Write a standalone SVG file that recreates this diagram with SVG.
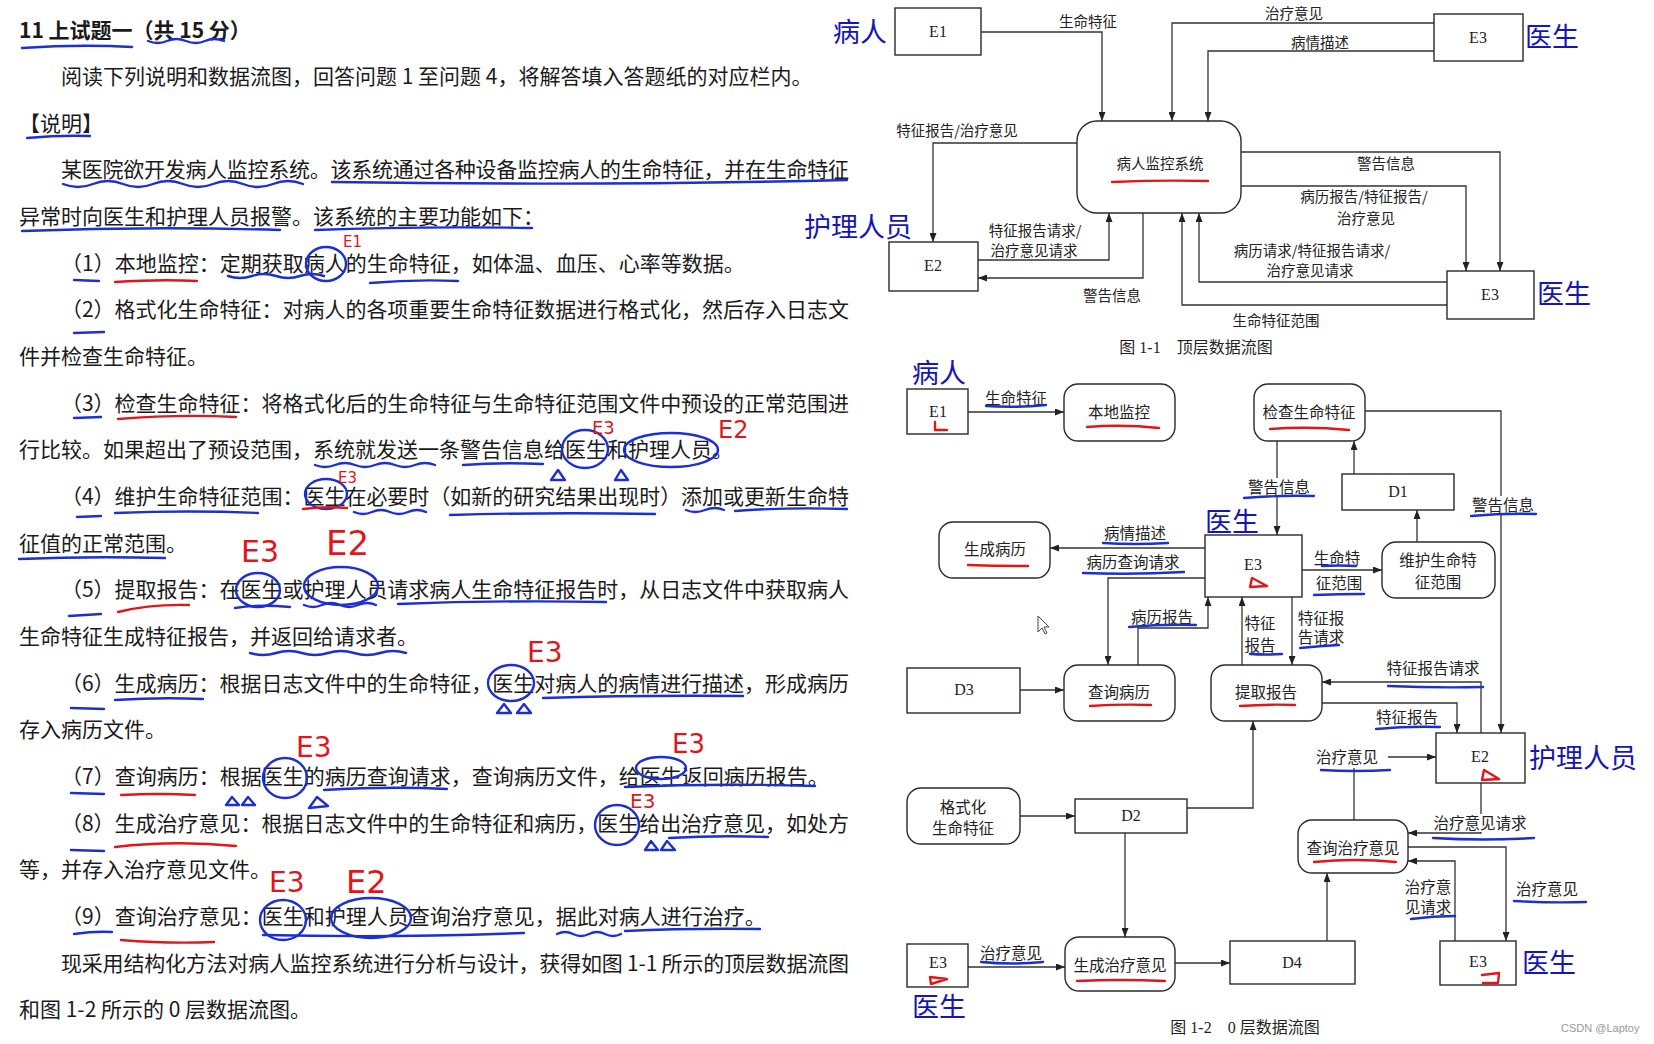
<svg xmlns="http://www.w3.org/2000/svg" width="1654" height="1044" viewBox="0 0 1654 1044">
<defs>
<marker id="ah" viewBox="0 0 9 7" refX="9" refY="3.5" markerWidth="9" markerHeight="7" markerUnits="userSpaceOnUse" orient="auto"><path d="M0,0 L9,3.5 L0,7 z" fill="#222"/></marker>
<style>
.t{font-family:"Noto Sans CJK SC","Noto Sans",sans-serif;font-size:21px;fill:#1a1a1a}
.tb{font-weight:bold}
.l1{font-family:"Noto Sans CJK SC",sans-serif;font-size:14.5px;fill:#222;text-anchor:middle}
.l2{font-family:"Noto Sans CJK SC",sans-serif;font-size:15.5px;fill:#222;text-anchor:middle}
.id{font-family:"Liberation Serif",serif;font-size:16px;fill:#222;text-anchor:middle}
.cap{font-family:"Liberation Serif","Noto Sans CJK SC",serif;font-size:16px;fill:#222;text-anchor:middle}
.bx{fill:#fff;stroke:#2a2a2a;stroke-width:1.4}
.c{fill:none;stroke:#333;stroke-width:1.3}
.a{marker-end:url(#ah)}
.bl{fill:none;stroke:#1c2fd0;stroke-width:2.4;stroke-linecap:round;stroke-linejoin:round}
.rd{fill:none;stroke:#e0161b;stroke-width:2.4;stroke-linecap:round;stroke-linejoin:round}
.big{font-family:"Noto Sans CJK SC",sans-serif;font-size:27px;fill:#1616b4}
.hw{font-family:"DejaVu Sans",sans-serif;fill:#e0161b}
.wb{fill:#fff}
</style>
</defs>
<rect width="1654" height="1044" fill="#fff"/>

<g id="text">
<text class="t tb" x="19" y="37.5" font-size="20">11 上试题一（共 15 分）</text>
<text class="t" x="61" y="84">阅读下列说明和数据流图，回答问题 1 至问题 4，将解答填入答题纸的对应栏内。</text>
<text class="t" x="19" y="130.5">【说明】</text>
<text class="t" x="61" y="177" textLength="788" lengthAdjust="spacing">某医院欲开发病人监控系统。该系统通过各种设备监控病人的生命特征，并在生命特征</text>
<text class="t" x="19" y="224">异常时向医生和护理人员报警。该系统的主要功能如下：</text>
<text class="t" x="61" y="270.5">（1）本地监控：定期获取病人的生命特征，如体温、血压、心率等数据。</text>
<text class="t" x="61" y="317" textLength="788" lengthAdjust="spacing">（2）格式化生命特征：对病人的各项重要生命特征数据进行格式化，然后存入日志文</text>
<text class="t" x="19" y="364">件并检查生命特征。</text>
<text class="t" x="61" y="410.5" textLength="788" lengthAdjust="spacing">（3）检查生命特征：将格式化后的生命特征与生命特征范围文件中预设的正常范围进</text>
<text class="t" x="19" y="457">行比较。如果超出了预设范围，系统就发送一条警告信息给医生和护理人员。</text>
<text class="t" x="61" y="504" textLength="788" lengthAdjust="spacing">（4）维护生命特征范围：医生在必要时（如新的研究结果出现时）添加或更新生命特</text>
<text class="t" x="19" y="550.5">征值的正常范围。</text>
<text class="t" x="61" y="597" textLength="788" lengthAdjust="spacing">（5）提取报告：在医生或护理人员请求病人生命特征报告时，从日志文件中获取病人</text>
<text class="t" x="19" y="644">生命特征生成特征报告，并返回给请求者。</text>
<text class="t" x="61" y="690.5" textLength="788" lengthAdjust="spacing">（6）生成病历：根据日志文件中的生命特征，医生对病人的病情进行描述，形成病历</text>
<text class="t" x="19" y="737">存入病历文件。</text>
<text class="t" x="61" y="784">（7）查询病历：根据医生的病历查询请求，查询病历文件，给医生返回病历报告。</text>
<text class="t" x="61" y="830.5" textLength="788" lengthAdjust="spacing">（8）生成治疗意见：根据日志文件中的生命特征和病历，医生给出治疗意见，如处方</text>
<text class="t" x="19" y="877">等，并存入治疗意见文件。</text>
<text class="t" x="61" y="924">（9）查询治疗意见：医生和护理人员查询治疗意见，据此对病人进行治疗。</text>
<text class="t" x="61" y="970.5" textLength="788" lengthAdjust="spacing">现采用结构化方法对病人监控系统进行分析与设计，获得如图 1-1 所示的顶层数据流图</text>
<text class="t" x="19" y="1017">和图 1-2 所示的 0 层数据流图。</text>
</g>

<g id="annotations">
<path class="bl" d="M22,48 Q80,44 132,47"/>
<path class="bl" d="M148,41 q10,4 19,0 t19,0 t19,0 t19,0"/>
<path class="bl" d="M27,138 Q60,135 90,136"/>
<path class="bl" d="M63,184 q15,6 30,0 t30,0 t30,0 t30,0 t30,0 t30,0 t30,0 t30,0"/>
<path class="bl" d="M332,182 Q600,186 847,180"/>
<path class="bl" d="M22,231 Q150,226 280,230"/>
<path class="bl" d="M315,230 Q420,226 532,228"/>
<path class="bl" d="M74,280 L99,281"/>
<path class="rd" d="M115,282 Q160,279 197,281"/>
<path class="bl" d="M228,276 q12,4 24,0 t24,0 t24,0 t24,0"/>
<ellipse class="bl" cx="326" cy="264" rx="20" ry="17"/>
<path class="bl" d="M370,283 Q415,279 458,281"/>
<text class="hw" x="343" y="247" font-size="15">E1</text>
<path class="bl" d="M74,333 L104,332"/>
<path class="bl" d="M74,418 L101,417"/>
<path class="rd" d="M118,419 Q180,414 236,417"/>
<path class="bl" d="M315,465 q10,4 20,0 t20,0 t20,0 t20,0 t20,0 t20,0"/>
<path class="bl" d="M463,465 Q500,462 543,464"/>
<ellipse class="bl" cx="585" cy="449" rx="23" ry="19"/>
<ellipse class="bl" cx="671" cy="450" rx="47" ry="17"/>
<text class="hw" x="592" y="434" font-size="18">E3</text>
<text class="hw" x="718" y="438" font-size="24">E2</text>
<path class="bl" d="M551,480 L558,470 L565,480 Z"/>
<path class="bl" d="M615,480 L621,470 L628,480 Z"/>
<path class="bl" d="M77,517 L101,516"/>
<path class="bl" d="M115,513 Q190,510 258,513"/>
<ellipse class="bl" cx="326" cy="494" rx="21" ry="15"/>
<path class="rd" d="M303,509 Q325,506 347,508"/>
<text class="hw" x="338" y="483" font-size="15">E3</text>
<path class="bl" d="M354,512 q9,4 18,0 t18,0 t18,0 t18,0"/>
<path class="bl" d="M450,515 Q550,512 655,514"/>
<path class="bl" d="M686,510 q9,4 19,0 t19,0"/>
<path class="bl" d="M735,511 Q790,507 847,509"/>
<path class="bl" d="M19,559 Q90,556 165,558"/>
<text class="hw" x="241" y="562" font-size="30">E3</text>
<text class="hw" x="326" y="555" font-size="34">E2</text>
<path class="bl" d="M69,616 L101,614"/>
<path class="rd" d="M118,612 Q150,604 189,605"/>
<ellipse class="bl" cx="258" cy="590" rx="22" ry="17"/>
<path class="bl" d="M235,608 Q258,604 290,607"/>
<ellipse class="bl" cx="341" cy="586" rx="37" ry="19"/>
<path class="bl" d="M304,605 q9,4 18,0 t18,0 t18,0 t18,0"/>
<path class="bl" d="M398,604 Q500,600 606,602"/>
<path class="bl" d="M250,653 q13,4 26,0 t26,0 t26,0 t26,0 t26,0 t26,0"/>
<text class="hw" x="527" y="662" font-size="28">E3</text>
<path class="bl" d="M71,708 L104,709"/>
<path class="bl" d="M115,700 Q160,697 203,699"/>
<ellipse class="bl" cx="511" cy="683" rx="23" ry="18"/>
<path class="bl" d="M497,713 L504,704 L511,713 Z M517,713 L524,704 L531,713 Z"/>
<path class="bl" d="M543,698 Q640,695 743,696"/>
<text class="hw" x="296" y="757" font-size="28">E3</text>
<text class="hw" x="672" y="753" font-size="26">E3</text>
<path class="bl" d="M71,793 L104,794"/>
<path class="rd" d="M121,795 Q160,793 195,795"/>
<ellipse class="bl" cx="285" cy="778" rx="22" ry="20"/>
<path class="bl" d="M226,805 L232,797 L239,805 Z M242,805 L248,797 L255,805 Z"/>
<path class="bl" d="M309,808 L317,797 L328,806 Z"/>
<path class="bl" d="M324,790 Q390,786 447,789"/>
<ellipse class="bl" cx="661" cy="768" rx="25" ry="11"/>
<path class="bl" d="M625,787 Q720,783 815,786"/>
<text class="hw" x="630" y="808" font-size="20">E3</text>
<path class="bl" d="M71,850 L104,851"/>
<path class="rd" d="M115,847 Q175,840 236,846"/>
<ellipse class="bl" cx="617" cy="825" rx="22" ry="20"/>
<path class="bl" d="M645,850 L651,841 L658,850 Z M661,850 L667,841 L675,850 Z"/>
<path class="bl" d="M669,838 Q720,835 768,837"/>
<text class="hw" x="269" y="892" font-size="28">E3</text>
<text class="hw" x="346" y="893" font-size="32">E2</text>
<path class="bl" d="M74,934 Q95,931 112,932"/>
<path class="rd" d="M121,940 Q170,944 214,942"/>
<ellipse class="bl" cx="283" cy="920" rx="23" ry="20"/>
<ellipse class="bl" cx="371" cy="918" rx="40" ry="20"/>
<path class="bl" d="M263,935 Q390,938 524,933"/>
<path class="bl" d="M557,934 q8,-4 16,0 t16,0 t16,0 t16,0"/>
<path class="bl" d="M625,931 Q690,928 760,929"/>
</g>

<!-- Figure 1-1 -->
<g id="fig1-connectors">
<path class="c a" d="M981,32 H1102 V121"/>
<path class="c a" d="M1434,23 H1172 V121"/>
<path class="c a" d="M1434,51 H1208 V121"/>
<path class="c a" d="M1077,143 H933 V242"/>
<path class="c a" d="M978,260 H1109 V213"/>
<path class="c a" d="M1143,213 V278 H978"/>
<path class="c a" d="M1241,152 H1500 V271"/>
<path class="c a" d="M1241,186 H1466 V271"/>
<path class="c a" d="M1447,282 H1199 V213"/>
<path class="c a" d="M1447,305 H1182 V213"/>
<text class="l1" x="1088" y="27">生命特征</text>
<text class="l1" x="1294" y="18.5">治疗意见</text>
<text class="l1" x="1320" y="47.5">病情描述</text>
<text class="l1" x="957" y="135.5">特征报告/治疗意见</text>
<text class="l1" x="1035" y="235.5">特征报告请求/</text>
<text class="l1" x="1034" y="255.5">治疗意见请求</text>
<text class="l1" x="1112" y="300.5">警告信息</text>
<text class="l1" x="1386" y="168.5">警告信息</text>
<text class="l1" x="1364" y="202">病历报告/特征报告/</text>
<text class="l1" x="1366" y="223.5">治疗意见</text>
<text class="l1" x="1312" y="255.5">病历请求/特征报告请求/</text>
<text class="l1" x="1310" y="275.5">治疗意见请求</text>
<text class="l1" x="1276" y="325.5">生命特征范围</text>
</g>
<g id="f1-E1"><rect class="bx" x="895" y="8" width="86" height="47"/><text class="id" x="938" y="37">E1</text></g>
<g id="f1-E3a"><rect class="bx" x="1434" y="14" width="89" height="47"/><text class="id" x="1478" y="43">E3</text></g>
<g id="f1-P"><rect class="bx" x="1077" y="121" width="164" height="92" rx="20"/><text class="l1" x="1160" y="168.5">病人监控系统</text><path class="rd" d="M1112,182 Q1160,180 1208,181" stroke-width="2"/></g>
<g id="f1-E2"><rect class="bx" x="889" y="242" width="89" height="49"/><text class="id" x="933" y="271">E2</text></g>
<g id="f1-E3b"><rect class="bx" x="1447" y="271" width="87" height="48"/><text class="id" x="1490" y="300">E3</text></g>
<text class="big" x="833" y="42">病人</text>
<text class="big" x="1525" y="47">医生</text>
<text class="big" x="804" y="237">护理人员</text>
<text class="big" x="1537" y="304">医生</text>
<text class="cap" x="1196" y="353">图 1-1　顶层数据流图</text>

<!-- Figure 1-2 -->
<g id="fig2-connectors">
<path class="c a" d="M968,412 H1064"/>
<path class="c a" d="M1365,411 H1501 V733"/>
<path class="c a" d="M1277,441 V535"/>
<path class="c a" d="M1354,474 V441"/>
<path class="c a" d="M1417,542 V510"/>
<path class="c a" d="M1205,548 H1050"/>
<path class="c a" d="M1205,578 H1108 V665"/>
<path class="c a" d="M1302,570 H1382"/>
<path class="c a" d="M1138,665 V628 H1208 V597"/>
<path class="c a" d="M1242,665 V597"/>
<path class="c a" d="M1292,597 V665"/>
<path class="c a" d="M1481,733 V682 H1322"/>
<path class="c a" d="M1322,703 H1457 V733"/>
<path class="c a" d="M1020,690 H1064"/>
<path class="c" d="M1354,820 V768"/>
<path class="c a" d="M1388,757 H1436"/>
<path class="c a" d="M1187,808 H1253 V721"/>
<path class="c a" d="M1481,783 V833 H1408"/>
<path class="c a" d="M1020,816 H1075"/>
<path class="c a" d="M1125,833 V937"/>
<path class="c a" d="M968,967 H1065"/>
<path class="c a" d="M1175,963 H1230"/>
<path class="c a" d="M1327,941 V873"/>
<path class="c a" d="M1408,847 H1506 V941"/>
<path class="c a" d="M1455,941 V861 H1408"/>
<rect class="wb" x="1242" y="478" width="74" height="18"/>
<rect class="wb" x="1469" y="496" width="68" height="18"/>
<rect class="wb" x="1429" y="814" width="102" height="18"/>
<text class="l2" x="1016" y="403.5">生命特征</text>
<text class="l2" x="1279" y="492.5">警告信息</text>
<text class="l2" x="1503" y="510.5">警告信息</text>
<text class="l2" x="1135" y="538.5">病情描述</text>
<text class="l2" x="1133" y="567.5">病历查询请求</text>
<text class="l2" x="1337" y="563.5">生命特</text>
<text class="l2" x="1339" y="588.5">征范围</text>
<text class="l2" x="1162" y="622.5">病历报告</text>
<text class="l2" x="1260" y="628.5">特征</text>
<text class="l2" x="1260" y="650.5">报告</text>
<text class="l2" x="1321" y="623.5">特征报</text>
<text class="l2" x="1321" y="642.5">告请求</text>
<text class="l2" x="1433" y="673.5">特征报告请求</text>
<text class="l2" x="1407" y="722.5">特征报告</text>
<text class="l2" x="1347" y="762.5">治疗意见</text>
<text class="l2" x="1480" y="828.5">治疗意见请求</text>
<text class="l2" x="1011" y="958.5">治疗意见</text>
<text class="l2" x="1547" y="894.5">治疗意见</text>
<text class="l2" x="1428" y="892.5">治疗意</text>
<text class="l2" x="1428" y="912.5">见请求</text>
</g>
<g id="fig2-label-marks">
<path class="bl" d="M986,406 Q1015,408 1046,405"/>
<path class="bl" d="M1244,498 Q1280,495 1314,496"/>
<path class="bl" d="M1471,516 Q1505,513 1536,514"/>
<path class="bl" d="M1103,543 Q1135,545 1168,543"/>
<path class="bl" d="M1083,573 Q1133,575 1184,572"/>
<path class="bl" d="M1322,566 Q1340,565 1356,566"/>
<path class="bl" d="M1314,595 Q1340,594 1364,594"/>
<path class="bl" d="M1408,570 Q1418,568 1429,568"/>
<path class="bl" d="M1423,590 Q1440,589 1457,590"/>
<path class="bl" d="M1129,627 Q1162,624 1196,625"/>
<path class="bl" d="M1250,654 Q1266,655 1282,654"/>
<path class="bl" d="M1300,648 Q1320,646 1339,645"/>
<path class="bl" d="M1388,686 Q1435,688 1483,687"/>
<path class="bl" d="M1376,729 Q1408,726 1440,727"/>
<path class="bl" d="M1321,770 Q1355,772 1390,770"/>
<path class="bl" d="M1433,838 Q1483,841 1534,838"/>
<path class="bl" d="M1514,901 Q1550,903 1586,902"/>
<path class="bl" d="M1411,919 Q1433,916 1455,916"/>
<path class="bl" d="M981,962 Q1012,965 1043,962"/>
</g>
<g id="f2-E1"><rect class="bx" x="907" y="389" width="61" height="45"/><text class="id" x="938" y="417">E1</text><path class="rd" d="M935,422 L935,430 L947,430" stroke-width="2"/></g>
<g id="f2-bendi"><rect class="bx" x="1064" y="384" width="111" height="57" rx="14"/><text class="l2" x="1119" y="417.5">本地监控</text><path class="rd" d="M1087,427 Q1123,424 1159,428" stroke-width="2"/></g>
<g id="f2-jiancha"><rect class="bx" x="1254" y="384" width="111" height="57" rx="14"/><text class="l2" x="1309" y="417.5">检查生命特征</text><path class="rd" d="M1270,429 Q1310,426 1349,430" stroke-width="2"/></g>
<g id="f2-D1"><rect class="bx" x="1342" y="474" width="112" height="36"/><text class="id" x="1398" y="497">D1</text></g>
<g id="f2-E3"><rect class="bx" x="1205" y="535" width="97" height="62"/><text class="id" x="1253" y="570">E3</text><path class="rd" d="M1252,578 L1250,587 L1267,586 Z" stroke-width="2"/></g>
<g id="f2-bingli"><rect class="bx" x="939" y="522" width="111" height="56" rx="14"/><text class="l2" x="995" y="555">生成病历</text><path class="rd" d="M968,565 Q998,566 1028,566" stroke-width="2"/></g>
<g id="f2-weihu"><rect class="bx" x="1382" y="542" width="113" height="56" rx="14"/><text class="l2" x="1438" y="565.5">维护生命特</text><text class="l2" x="1438" y="587.5">征范围</text></g>
<g id="f2-chaxun"><rect class="bx" x="1064" y="665" width="111" height="56" rx="14"/><text class="l2" x="1119" y="698">查询病历</text><path class="rd" d="M1090,706 Q1120,704 1151,705" stroke-width="2"/></g>
<g id="f2-tiqu"><rect class="bx" x="1211" y="665" width="111" height="56" rx="14"/><text class="l2" x="1266" y="698">提取报告</text><path class="rd" d="M1240,706 Q1268,704 1295,705" stroke-width="2"/></g>
<g id="f2-D3"><rect class="bx" x="907" y="668" width="113" height="45"/><text class="id" x="964" y="695">D3</text></g>
<g id="f2-E2"><rect class="bx" x="1436" y="733" width="89" height="50"/><text class="id" x="1480" y="762">E2</text><path class="rd" d="M1484,770 L1482,780 L1499,779 Z" stroke-width="2"/></g>
<g id="f2-geshihua"><rect class="bx" x="907" y="788" width="113" height="56" rx="14"/><text class="l2" x="963" y="812.5">格式化</text><text class="l2" x="963" y="833.5">生命特征</text></g>
<g id="f2-D2"><rect class="bx" x="1075" y="799" width="112" height="34"/><text class="id" x="1131" y="821">D2</text></g>
<g id="f2-chaxunzl"><rect class="bx" x="1298" y="820" width="110" height="53" rx="14"/><text class="l2" x="1353" y="853.5">查询治疗意见</text><path class="rd" d="M1314,862 Q1355,858 1396,862" stroke-width="2"/></g>
<g id="f2-E3d"><rect class="bx" x="907" y="944" width="61" height="43"/><text class="id" x="938" y="968">E3</text><path class="rd" d="M930,977 L947,979 L931,984 Z" stroke-width="2"/></g>
<g id="f2-shengcheng"><rect class="bx" x="1065" y="937" width="110" height="54" rx="14"/><text class="l2" x="1120" y="970.5">生成治疗意见</text><path class="rd" d="M1077,981 Q1121,979 1165,981" stroke-width="2"/></g>
<g id="f2-D4"><rect class="bx" x="1230" y="941" width="125" height="43"/><text class="id" x="1292" y="968">D4</text></g>
<g id="f2-E3e"><rect class="bx" x="1440" y="941" width="76" height="44"/><text class="id" x="1478" y="967">E3</text><path class="rd" d="M1482,975 L1499,973 L1498,983 L1483,983" stroke-width="2"/></g>
<text class="big" x="912" y="383">病人</text>
<text class="big" x="1205" y="532">医生</text>
<text class="big" x="1529" y="768">护理人员</text>
<text class="big" x="912" y="1017">医生</text>
<text class="big" x="1522" y="973">医生</text>
<text class="cap" x="1245" y="1033">图 1-2　0 层数据流图</text>
<text x="1561" y="1032" font-family="Liberation Sans,sans-serif" font-size="11" fill="#999">CSDN @Laptoy</text>
<path d="M1038,616 L1038,632 L1042,628 L1045,634 L1047,633 L1044,627 L1049,627 Z" fill="#fff" stroke="#444" stroke-width="1"/>
</svg>
